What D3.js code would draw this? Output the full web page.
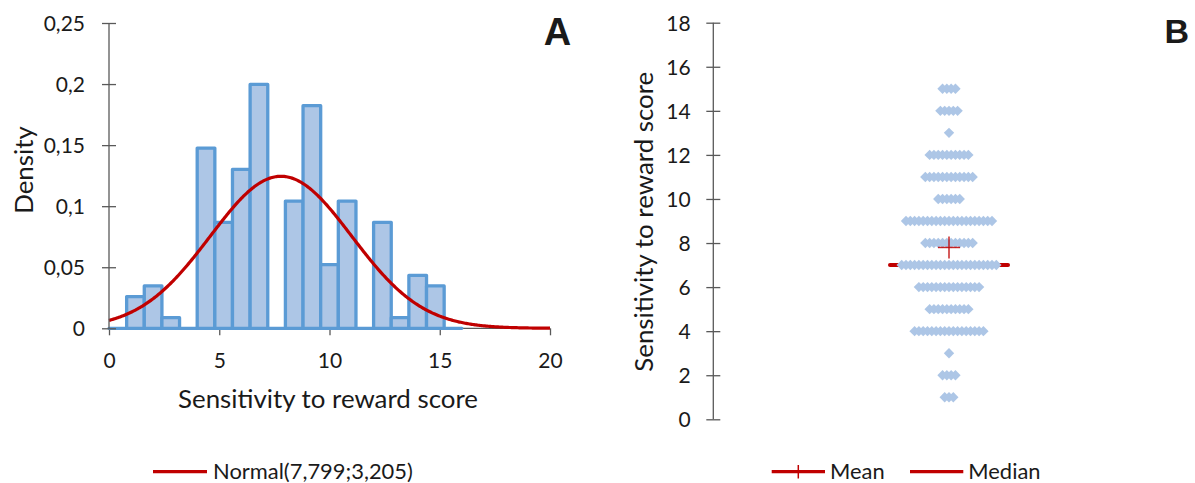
<!DOCTYPE html>
<html>
<head>
<meta charset="utf-8">
<script src="https://cdn.jsdelivr.net/npm/d3@7/dist/d3.min.js"></script>
<style>
  html, body { margin: 0; padding: 0; background: #fff; }
  svg { display: block; }
  text { font-family: Lato, "Open Sans", sans-serif; fill: #1a1a1a; }
</style>
</head>
<body>
<svg id="chart" width="1195" height="483"></svg>
<script>
// ---------- DATA ----------
// Panel A: histogram (bin lower edges, bin width 0.8) and densities
const histBinLower = [0, 0.8, 1.6, 2.4, 3.2, 4, 4.8, 5.6, 6.4, 7.2, 8, 8.8, 9.6, 10.4, 11.2, 12, 12.8, 13.6, 14.4, 15.2];
const histBinWidth = 0.8;
const histDensity = [0, 0.0260, 0.0347, 0.0087, 0, 0.1476, 0.0868, 0.1302, 0.1997, 0, 0.1042, 0.1823, 0.0521, 0.1042, 0, 0.0868, 0.0087, 0.0434, 0.0347, 0];
const normalMean = 7.799;
const normalSD = 3.205;
const normalLabel = "Normal(7,799;3,205)";
const xTicksA = [0, 5, 10, 15, 20];
const yTicksA = [0, 0.05, 0.1, 0.15, 0.2, 0.25];
const yTickLabelsA = ["0", "0,05", "0,1", "0,15", "0,2", "0,25"];

// Panel B: dot plot (score -> number of participants)
const scores = [1, 2, 3, 4, 5, 6, 7, 8, 9, 10, 11, 12, 13, 14, 15];
const scoreCounts = [3, 4, 1, 17, 10, 15, 23, 12, 21, 6, 12, 10, 1, 5, 4];
const meanScore = 7.799;
const medianScore = 7;
const yTicksB = [0, 2, 4, 6, 8, 10, 12, 14, 16, 18];

// ---------- STYLE ----------
const barFill = "#adc6e6";
const barStroke = "#5b9bd5";
const red = "#c00000";
const axisColor = "#595959";
const tickFont = "21px";

const svg = d3.select("#chart");

function fitText(sel, target, base) {
  sel.style("font-size", base + "px");
  const w = sel.node().getComputedTextLength();
  sel.style("font-size", (base * target / w).toFixed(2) + "px");
}

// ================= PANEL A =================
const xA = d3.scaleLinear().domain([0, 20]).range([109, 550]);
const yA = d3.scaleLinear().domain([0, 0.25]).range([328.3, 23]);

// x axis (under the bars)
const gxA = svg.append("g").attr("transform", `translate(0,${yA(0)})`)
  .call(d3.axisBottom(xA).tickValues(xTicksA).tickSize(7).tickFormat(d3.format("d")));
gxA.select(".domain").attr("stroke", axisColor).attr("stroke-width", 1.3).attr("d", `M${xA(0)},0H${xA(20)}`);
gxA.selectAll(".tick line").attr("stroke", axisColor).attr("stroke-width", 1.3);
gxA.selectAll(".tick text").attr("y", 0).attr("dy", 40)
  .style("font-size", tickFont).style("font-family", "Lato, sans-serif").attr("fill", "#1a1a1a");

// bars (paths so that empty bins still show their outline on the baseline)
svg.append("g").selectAll("path").data(histBinLower).join("path")
  .attr("d", (d, i) => {
    const x0 = xA(d), x1 = xA(d + histBinWidth), y0 = yA(0), y1 = yA(histDensity[i]);
    return `M${x0},${y0}V${y1}H${x1}V${y0}Z`;
  })
  .attr("fill", barFill)
  .attr("stroke", barStroke)
  .attr("stroke-width", 3.3)
  .attr("stroke-linejoin", "round");

// normal curve
const curveX = d3.range(0, 20.001, 0.05);
const pdf = x => Math.exp(-0.5 * Math.pow((x - normalMean) / normalSD, 2)) / (normalSD * Math.sqrt(2 * Math.PI));
svg.append("path")
  .datum(curveX)
  .attr("d", d3.line().x(d => xA(d)).y(d => yA(pdf(d))))
  .attr("fill", "none")
  .attr("stroke", red)
  .attr("stroke-width", 3.2);

// y axis
const gyA = svg.append("g").attr("transform", `translate(${xA(0)},0)`)
  .call(d3.axisLeft(yA).tickValues(yTicksA).tickSize(7).tickFormat((d, i) => yTickLabelsA[i]));
gyA.select(".domain").attr("stroke", axisColor).attr("stroke-width", 1.3).attr("d", `M0,${yA(0.25)}V${yA(0)}`);
gyA.selectAll(".tick line").attr("stroke", axisColor).attr("stroke-width", 1.3).attr("x1", -7).attr("x2", 7);
gyA.selectAll(".tick text").attr("x", -24).attr("dy", "0.35em")
  .style("font-size", tickFont).style("font-family", "Lato, sans-serif").attr("fill", "#1a1a1a");

// axis titles
const xtA = svg.append("text").attr("x", 328).attr("y", 408).attr("text-anchor", "middle")
  .text("Sensitivity to reward score");
fitText(xtA, 300, 22);
const ytA = svg.append("text").attr("transform", "translate(33,170) rotate(-90)").attr("text-anchor", "middle")
  .text("Density");
ytA.style("font-size", xtA.style("font-size"));

// panel letter
svg.append("text").attr("x", 557.5).attr("y", 45).attr("text-anchor", "middle")
  .style("font-family", "'Liberation Sans', Arial, sans-serif").style("font-weight", "bold")
  .style("font-size", "38px").attr("fill", "#000").text("A");

// legend A
svg.append("line").attr("x1", 153).attr("x2", 207).attr("y1", 471.7).attr("y2", 471.7)
  .attr("stroke", red).attr("stroke-width", 3.2);
const lgA = svg.append("text").attr("x", 213).attr("y", 478.5).text(normalLabel);
fitText(lgA, 200, 20);

// ================= PANEL B =================
const yB = d3.scaleLinear().domain([0, 18]).range([419.3, 22.7]);
const cxB = 949;
const dotStep = 4.3;
const dotR = 5.2;

// median line (behind dots)
svg.append("line").attr("x1", cxB - 59).attr("x2", cxB + 59)
  .attr("y1", yB(medianScore)).attr("y2", yB(medianScore))
  .attr("stroke", red).attr("stroke-width", 4).attr("stroke-linecap", "round");

// dots
const dots = [];
scores.forEach((s, i) => {
  const n = scoreCounts[i];
  for (let k = 0; k < n; k++) dots.push({ score: s, k, n });
});
svg.append("g").selectAll("path").data(dots).join("path")
  .attr("transform", d => `translate(${cxB + (d.k - (d.n - 1) / 2) * dotStep},${yB(d.score)})`)
  .attr("d", `M0,${-dotR}L${dotR},0L0,${dotR}L${-dotR},0Z`)
  .attr("fill", barFill);

// mean cross
const myB = yB(meanScore);
svg.append("line").attr("x1", cxB - 11).attr("x2", cxB + 11).attr("y1", myB).attr("y2", myB)
  .attr("stroke", red).attr("stroke-width", 1.5).attr("opacity", 0.85);
svg.append("line").attr("x1", cxB).attr("x2", cxB).attr("y1", myB - 11).attr("y2", myB + 11)
  .attr("stroke", red).attr("stroke-width", 1.5).attr("opacity", 0.85);

// y axis B
const gyB = svg.append("g").attr("transform", "translate(713.3,0)")
  .call(d3.axisLeft(yB).tickValues(yTicksB).tickSize(7).tickFormat(d3.format("d")));
gyB.select(".domain").attr("stroke", axisColor).attr("stroke-width", 1.3).attr("d", `M0,${yB(18)}V${yB(0)}`);
gyB.selectAll(".tick line").attr("stroke", axisColor).attr("stroke-width", 1.3).attr("x1", -7).attr("x2", 7);
gyB.selectAll(".tick text").attr("x", -22.6).attr("dy", "0.35em")
  .style("font-size", tickFont).style("font-family", "Lato, sans-serif").attr("fill", "#1a1a1a");

const ytB = svg.append("text").attr("transform", "translate(653,221.7) rotate(-90)").attr("text-anchor", "middle")
  .text("Sensitivity to reward score");
ytB.style("font-size", xtA.style("font-size"));

svg.append("text").attr("x", 1176.7).attr("y", 43.3).attr("text-anchor", "middle")
  .style("font-family", "'Liberation Sans', Arial, sans-serif").style("font-weight", "bold")
  .style("font-size", "34px").attr("fill", "#000").text("B");

// legend B
svg.append("line").attr("x1", 771.7).attr("x2", 825).attr("y1", 471.7).attr("y2", 471.7)
  .attr("stroke", red).attr("stroke-width", 3.2);
svg.append("line").attr("x1", 798.3).attr("x2", 798.3).attr("y1", 465).attr("y2", 478.5)
  .attr("stroke", red).attr("stroke-width", 1.5);
const lgMean = svg.append("text").attr("x", 830).attr("y", 478.5).text("Mean");
lgMean.style("font-size", lgA.style("font-size"));
svg.append("line").attr("x1", 910).attr("x2", 963.3).attr("y1", 471.7).attr("y2", 471.7)
  .attr("stroke", red).attr("stroke-width", 3.2);
const lgMed = svg.append("text").attr("x", 968.3).attr("y", 478.5).text("Median");
lgMed.style("font-size", lgA.style("font-size"));
</script>
</body>
</html>
